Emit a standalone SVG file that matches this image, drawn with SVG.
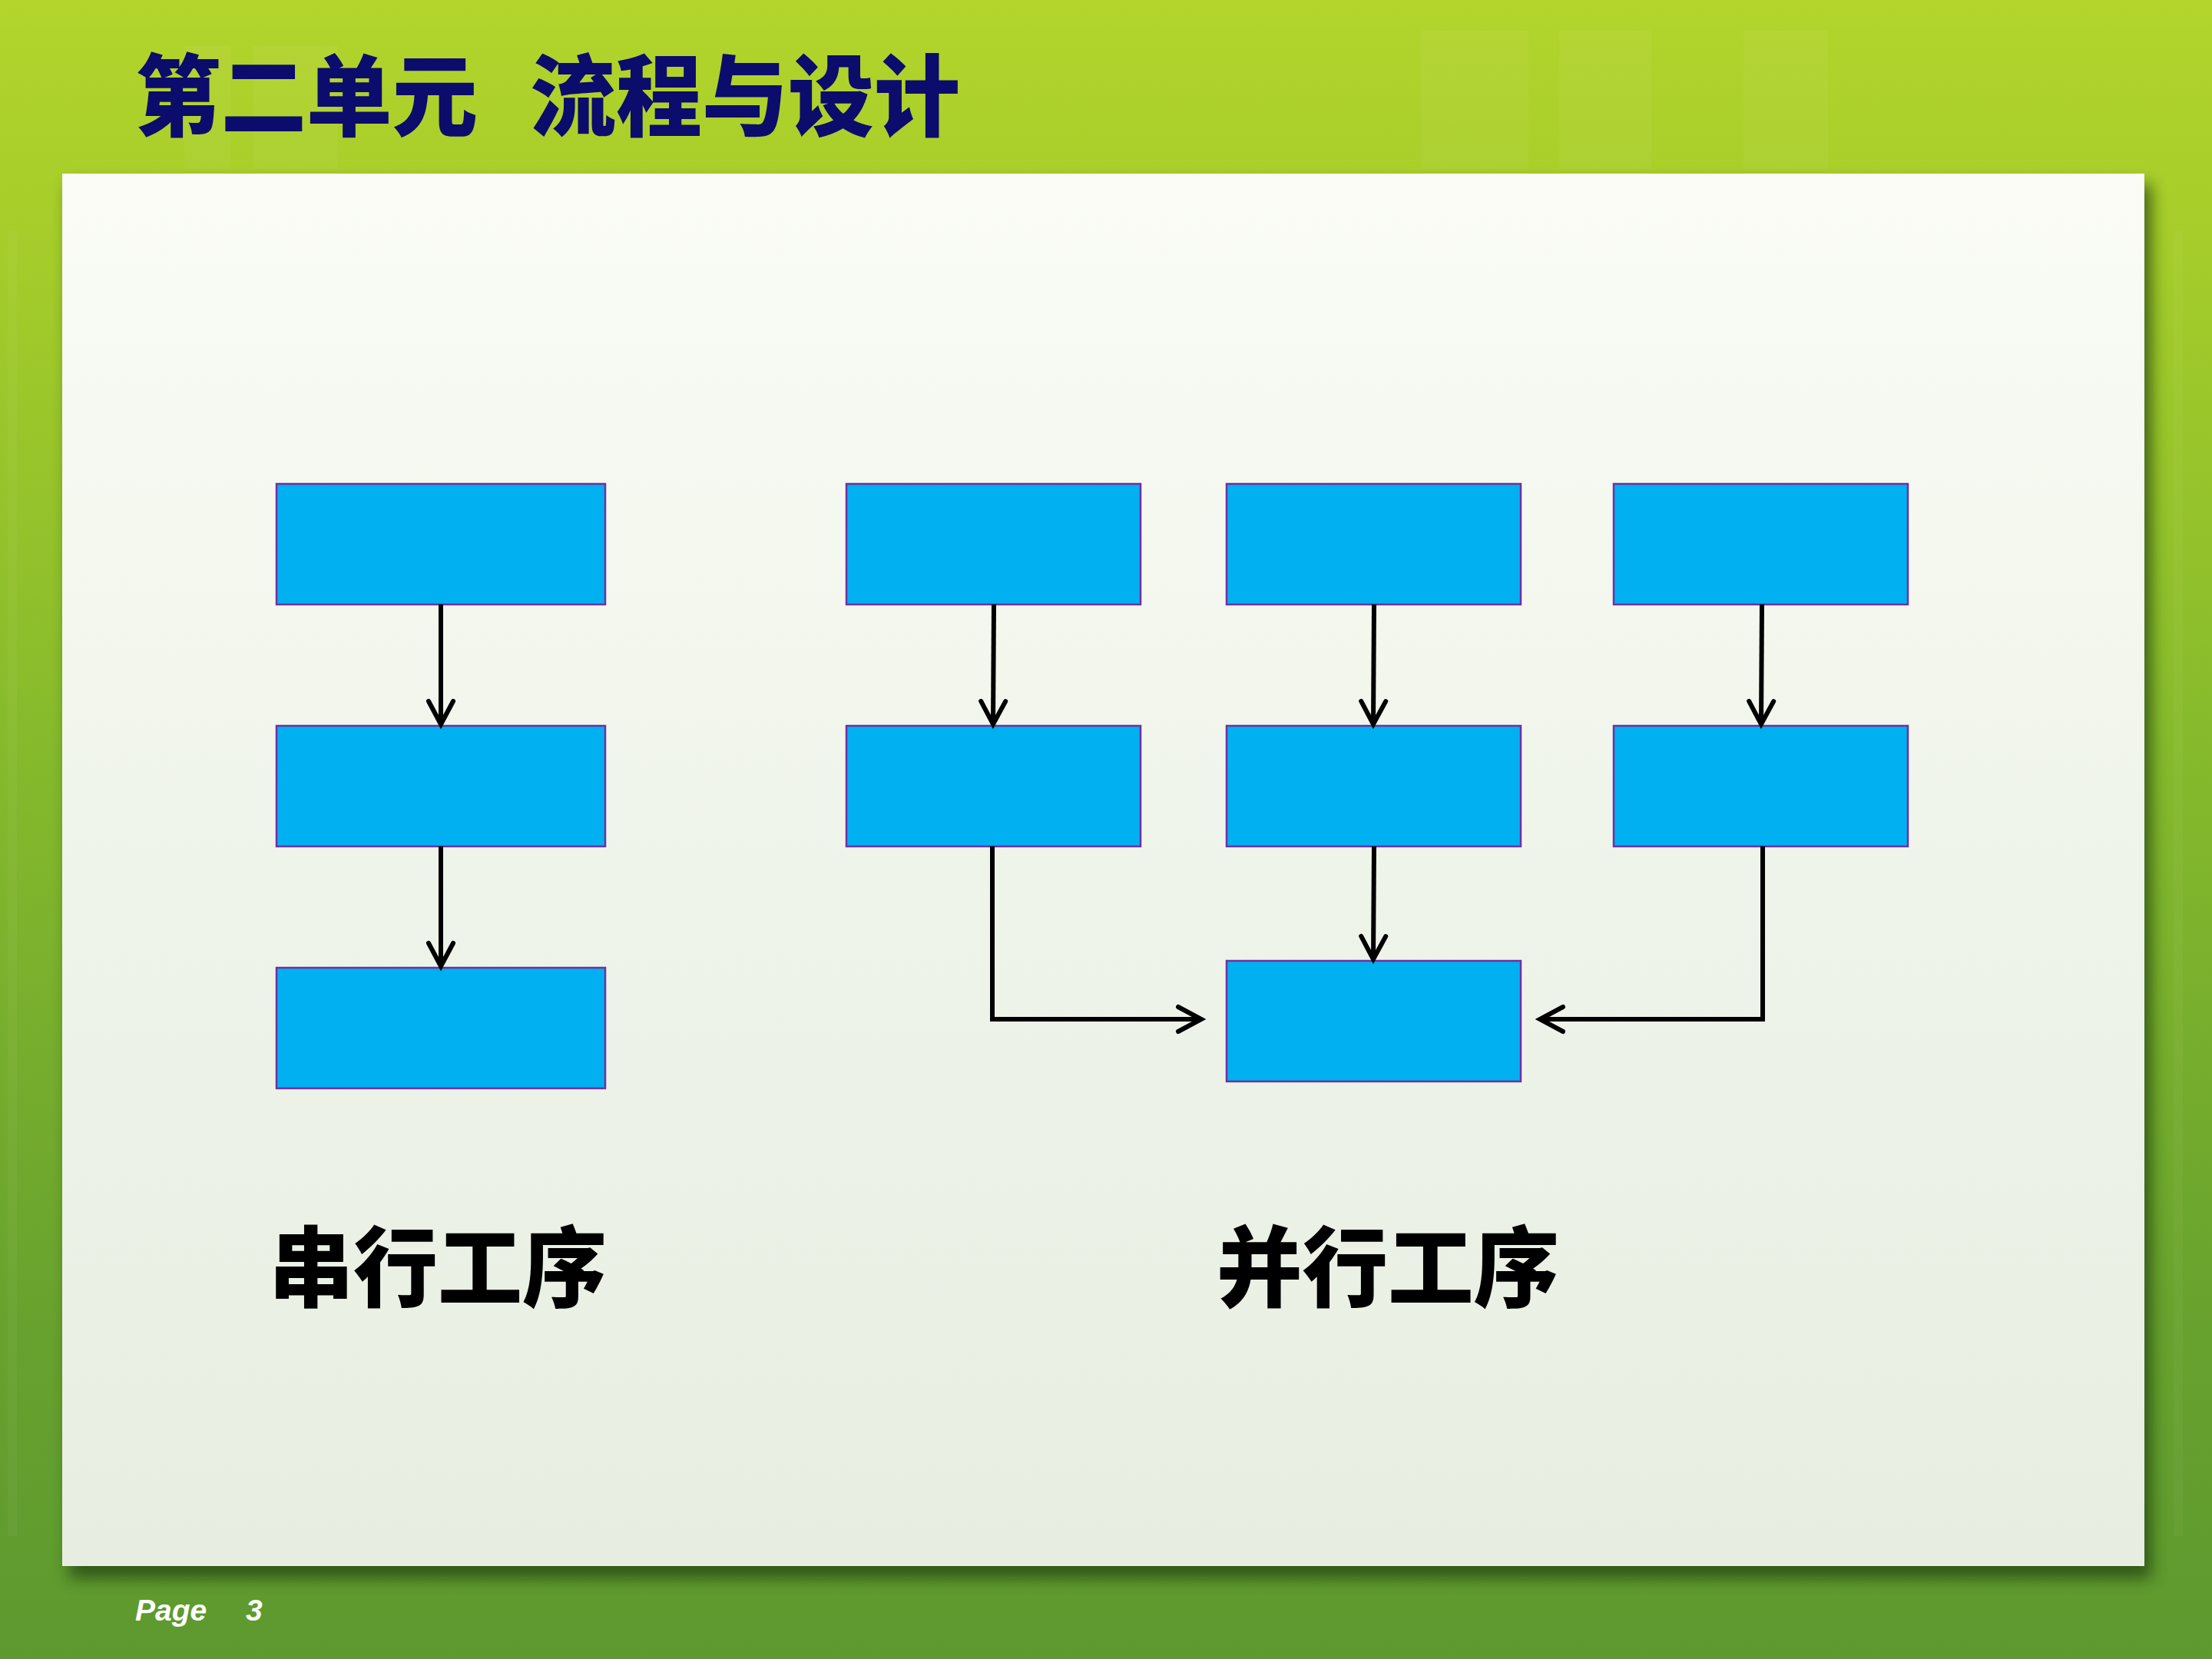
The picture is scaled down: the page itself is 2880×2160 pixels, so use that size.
<svg xmlns="http://www.w3.org/2000/svg" width="2880" height="2160" viewBox="0 0 2880 2160">
  <defs>
    <linearGradient id="bg" x1="0" y1="0" x2="0" y2="1">
      <stop offset="0" stop-color="#B3D52C"/>
      <stop offset="0.12" stop-color="#A8CE2A"/>
      <stop offset="0.45" stop-color="#86BA2C"/>
      <stop offset="0.8" stop-color="#68A22E"/>
      <stop offset="1" stop-color="#5D992F"/>
    </linearGradient>
    <linearGradient id="panel" x1="0" y1="0" x2="0" y2="1">
      <stop offset="0" stop-color="#FAFCF5"/>
      <stop offset="0.5" stop-color="#EFF4EA"/>
      <stop offset="1" stop-color="#E7EEE1"/>
    </linearGradient>
    <filter id="shadow" x="-5%" y="-5%" width="110%" height="115%">
      <feGaussianBlur stdDeviation="10"/>
    </filter>
    <marker id="arr" markerUnits="userSpaceOnUse" markerWidth="48" markerHeight="48" viewBox="-40 -24 48 48" refX="0" refY="0" orient="auto">
      <path d="M-30,-16 L0,0 L-30,16" fill="none" stroke="#000" stroke-width="6" stroke-linecap="round"/>
    </marker>
    <style>
      .box { fill: #00B0F0; stroke: #7030A0; stroke-width: 2.5; }
      .conn { fill: none; stroke: #000; stroke-width: 6; marker-end: url(#arr); }
      .title { font-family: "Noto Sans CJK SC", "Noto Sans", sans-serif; font-weight: 900; font-size: 116px; fill: #0C0C6C; }
      .label { font-family: "Noto Sans CJK SC", "Noto Sans", sans-serif; font-weight: 900; font-size: 114px; fill: #000; }
      .page { font-family: "Liberation Sans", Arial, sans-serif; font-weight: bold; font-style: italic; font-size: 39px; fill: #FFFFFF; }
      .stripe { fill: #FFFFFF; opacity: 0.04; }
    </style>
  </defs>

  <!-- background -->
  <rect x="0" y="0" width="2880" height="2160" fill="url(#bg)"/>
  <g id="stripes">
    <rect class="stripe" x="240" y="60" width="60" height="160"/>
    <rect class="stripe" x="330" y="60" width="110" height="160"/>
    <rect class="stripe" x="1850" y="40" width="140" height="180"/>
    <rect class="stripe" x="2030" y="40" width="120" height="180"/>
    <rect class="stripe" x="2270" y="40" width="110" height="180"/>
    <rect class="stripe" x="10" y="300" width="12" height="1700"/>
    <rect class="stripe" x="2830" y="300" width="12" height="1700"/>
  </g>

  <!-- white panel -->
  <rect x="90" y="240" width="2711" height="1815" fill="#1F3A10" opacity="0.7" filter="url(#shadow)"/>
  <rect x="81" y="226" width="2711" height="1813" fill="url(#panel)"/>

  <!-- title -->
  <g id="title">
    <text class="title" x="176" y="168" textLength="446" lengthAdjust="spacingAndGlyphs">第二单元</text>
    <text class="title" x="690" y="168" textLength="560" lengthAdjust="spacingAndGlyphs">流程与设计</text>
  </g>

  <!-- serial process nodes -->
  <g id="s1"><rect class="box" x="360" y="630" width="428" height="157"/></g>
  <g id="s2"><rect class="box" x="360" y="945" width="428" height="157"/></g>
  <g id="s3"><rect class="box" x="360" y="1260" width="428" height="157"/></g>

  <!-- parallel process nodes -->
  <g id="p1a"><rect class="box" x="1102" y="630" width="383" height="157"/></g>
  <g id="p1b"><rect class="box" x="1102" y="945" width="383" height="157"/></g>
  <g id="p2a"><rect class="box" x="1597" y="630" width="383" height="157"/></g>
  <g id="p2b"><rect class="box" x="1597" y="945" width="383" height="157"/></g>
  <g id="p3a"><rect class="box" x="2101" y="630" width="383" height="157"/></g>
  <g id="p3b"><rect class="box" x="2101" y="945" width="383" height="157"/></g>
  <g id="pend"><rect class="box" x="1597" y="1251" width="383" height="157"/></g>

  <!-- connectors -->
  <g id="connectors">
    <path class="conn" d="M574,787 L574,943"/>
    <path class="conn" d="M574,1102 L574,1258"/>
    <path class="conn" d="M1294,787 L1293,943"/>
    <path class="conn" d="M1789,787 L1788,943"/>
    <path class="conn" d="M2294,787 L2293,943"/>
    <path class="conn" d="M1789,1102 L1788,1249"/>
    <path class="conn" d="M1292,1102 L1292,1327 L1564,1327"/>
    <path class="conn" d="M2295,1102 L2295,1327 L2005,1327"/>
  </g>

  <!-- labels -->
  <g id="label-serial">
    <text class="label" x="350" y="1692" textLength="440" lengthAdjust="spacingAndGlyphs">串行工序</text>
  </g>
  <g id="label-parallel">
    <text class="label" x="1584" y="1692" textLength="446" lengthAdjust="spacingAndGlyphs">并行工序</text>
  </g>

  <!-- footer -->
  <g id="footer">
    <text class="page" x="176" y="2110">Page</text>
    <text class="page" x="320" y="2110">3</text>
  </g>
</svg>
